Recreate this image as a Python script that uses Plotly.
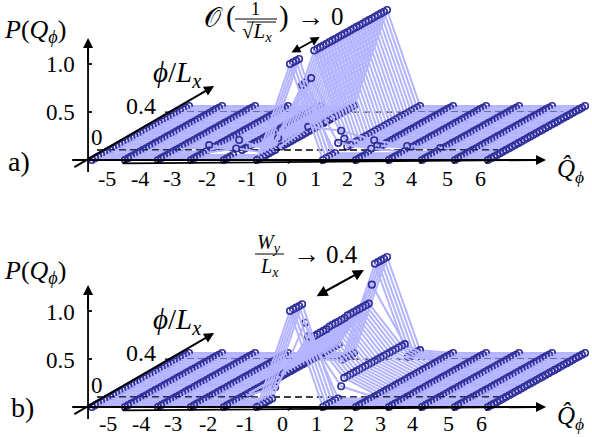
import plotly.graph_objects as go

W, H = 592, 437
SPLIT = 218
PX_Q = 33.0
PX_P = 96.0
Q_LEFT_PX = 92.0
BASE_A = 160.0
BASE_B = 407.0
SHEAR_X = 7.35
SHEAR_Y = 1.406

LIGHT = "#b4b4ff"
DARK = "#2f2f9a"
SERIF = "Liberation Serif"

Q = [-6, -5, -4, -3, -2, -1, 0, 1, 2, 3, 4, 5, 6]
PHI = [0.0, 0.0125, 0.025, 0.0375, 0.05, 0.0625, 0.075, 0.0875, 0.1, 0.1125, 0.125,
       0.1375, 0.15, 0.1625, 0.175, 0.1875, 0.2, 0.2125, 0.225, 0.2375, 0.25,
       0.2625, 0.275, 0.2875, 0.3, 0.3125, 0.325, 0.3375, 0.35, 0.3625, 0.375, 0.3875, 0.4]
FLAT = [0.0] * 33

# panel a, one list per charge sector, ordered along phi
A_M3 = [0, 0, 0, 0, 0, 0, .05, 0, 0, 0, 0, 0, 0, 0, 0, 0, 0, 0, 0, 0, 0, 0, 0, 0, 0, 0, 0, 0, 0, 0, 0, 0, 0]
A_M2 = [0, 0, 0, 0, .05, .12, 0, 0, 0, 0, 0, 0, 0, 0, 0, 0, 0, 0, 0, 0, 0, 0, 0, 0, 0, 0, 0, 0, 0, 0, 0, 0, 0]
A_M1 = [0, 0, 0, 0, 0, 0, 0, .105, 0, 0, 0, 0, 0, 0, 0, 0, 0, 0, 0, 0, 0, 0, 0, 0, 0, 0, 0, 0, 0, 0, 0, 0, 0]
A_0 = [1, 1, 1, 1, .71, .72, .24, .73, 1, 1, 1, 1, 1, 1, 1, 1, 1, 1, 1, 1, 1, 1, 1, 1, 1, 1, 1, 1, 1, 1, 1, 1, 1]
A_1 = [0, 0, 0, 0, 0, .09, .2, .1, 0, 0, 0, 0, 0, 0, 0, 0, 0, 0, 0, 0, 0, 0, 0, 0, 0, 0, 0, 0, 0, 0, 0, 0, 0]
A_2 = [0, 0, 0, 0, 0, .03, .1, .03, 0, 0, 0, 0, 0, 0, 0, 0, 0, 0, 0, 0, 0, 0, 0, 0, 0, 0, 0, 0, 0, 0, 0, 0, 0]
A_3 = [0, 0, 0, 0, 0, 0, .04, 0, 0, 0, 0, 0, 0, 0, 0, 0, 0, 0, 0, 0, 0, 0, 0, 0, 0, 0, 0, 0, 0, 0, 0, 0, 0]
A_4 = [0, 0, 0, 0, 0, 0, .02, 0, 0, 0, 0, 0, 0, 0, 0, 0, 0, 0, 0, 0, 0, 0, 0, 0, 0, 0, 0, 0, 0, 0, 0, 0, 0]
ROWS_A = [FLAT, FLAT, FLAT, A_M3, A_M2, A_M1, A_0, A_1, A_2, A_3, A_4, FLAT, FLAT]

# panel b
B_M1 = [0, 0, 0, 0, 0, 0, .1, .18, .18, .18, .18, .18, .18, .18, .18, .18, .18, .18, .18, .18, .18, .18, .18, .18, .18, .18, .18, .18, 0, 0, 0, 0, 0]
B_0 = [1, 1, 1, 1, 1, .79, .63, .61, .6, .6, .6, .6, .6, .61, .61, .61, .61, .61, .61, .62, .62, .62, .62, .62, .62, .62, .62, .8, 1, 1, 1, 1, 1]
B_1 = [0, 0, 0, 0, 0, 0, .11, .18, .18, .18, .18, .18, .18, .18, .18, .18, .18, .18, .18, .18, .18, .18, .18, .18, .18, .18, .18, .18, .03, .03, .03, .03, .03]
ROWS_B = [FLAT, FLAT, FLAT, FLAT, FLAT, B_M1, B_0, B_1, FLAT, FLAT, FLAT, FLAT, FLAT]

TICK_Q = [-5, -4, -3, -2, -1, 0, 1, 2, 3, 4, 5, 6]
TICK_TEXT = ["-5", "-4", "-3", "-2", "-1", "0", "1", "2", "3", "4", "5", "6"]
TICK_PX_A = [107, 140, 172, 207, 247, 281, 315, 347, 379, 411, 447, 480]
TICK_PX_B = [108, 141, 173, 208, 245, 282, 316, 348, 380, 412, 448, 481]
P_TICKS = [0.5, 1.0]
P_TICK_TEXT = ["0.5", "1.0"]


def draw_panel(fig, rows, xa, ya, refs):
    """Oblique projection: each phi is one polyline across Q, high phi drawn first."""
    for j in range(len(PHI) - 1, -1, -1):
        phi = PHI[j]
        for level, q_from, q_to in refs:
            if PHI[j] < level <= PHI[j] + 0.0125:
                fig.add_trace(go.Scatter(
                    x=[q_from, q_to], y=[level * SHEAR_Y] * 2, mode="lines",
                    line=dict(color="black", width=1.3, dash="7px,4px"),
                    xaxis=xa, yaxis=ya, hoverinfo="skip"))
        fig.add_trace(go.Scatter(
            x=[q + phi * SHEAR_X for q in Q],
            y=[row[j] + phi * SHEAR_Y for row in rows],
            mode="lines+markers",
            line=dict(color=LIGHT, width=2.0),
            marker=dict(symbol="circle-open", size=6.5, color=DARK, line=dict(width=1.6, color=DARK)),
            xaxis=xa, yaxis=ya, hoverinfo="skip"))
    # axes frame and ticks
    tx, ty = [-6.12, -6.12, None, -6.6, 7.5], [-0.125, 1.2, None, 0, 0]
    for q in TICK_Q:
        tx += [q - 0.07, q + 0.07, None]
        ty += [-0.035, 0.0, None]
    for p in P_TICKS:
        tx += [-6.12, -6.0, None]
        ty += [p, p, None]
    fig.add_trace(go.Scatter(x=tx, y=ty, mode="lines", line=dict(color="black", width=1.8),
                             xaxis=xa, yaxis=ya, hoverinfo="skip"))


def arrow(fig, xa, ya, tail, tip, both=False, width=2.0):
    fig.add_annotation(x=tip[0], y=tip[1], ax=tail[0], ay=tail[1], xref=xa, yref=ya, axref=xa, ayref=ya,
                       text="", showarrow=True, arrowhead=2, arrowsize=1.0, arrowwidth=width,
                       arrowside="end+start" if both else "end", arrowcolor="black",
                       startarrowhead=2, startarrowsize=1.0)


def label(fig, px, py, text, size=20):
    fig.add_annotation(x=px / W, y=1 - py / H, xref="paper", yref="paper", text=text, showarrow=False,
                       xanchor="center", yanchor="middle", font=dict(family=SERIF, size=size, color="black"))


def bar(fig, x0, x1, py):
    fig.add_shape(type="line", xref="paper", yref="paper", x0=x0 / W, x1=x1 / W, y0=1 - py / H, y1=1 - py / H,
                  line=dict(color="black", width=1))


fig = go.Figure()
draw_panel(fig, ROWS_A, "x", "y", [(0.074, -5.85, 6.30), (0.355, -3.79, 8.27)])
draw_panel(fig, ROWS_B, "x2", "y2", [(0.074, -5.85, 6.36), (0.355, -3.79, 8.39)])

for xa, ya in [("x", "y"), ("x2", "y2")]:
    arrow(fig, xa, ya, (7.0, 0), (7.76, 0))
    arrow(fig, xa, ya, (-6.12, 1.0), (-6.12, 1.27))
    arrow(fig, xa, ya, (-6.58, -0.083), (-2.3, 0.77))
arrow(fig, "x", "y", (0.0, 1.11), (0.9, 1.28), both=True, width=1.8)
arrow(fig, "x2", "y2", (0.76, 1.146), (2.24, 1.427), both=True, width=2.2)

P_LABEL = "<i>P</i>(<i>Q</i><sub><i>ϕ</i></sub>)"
PHI_LABEL = "<i>ϕ</i>/<i>L</i><sub><i>x</i></sub>"
QHAT_LABEL = "<i>Q̂</i><sub><i>ϕ</i></sub>"

for off, ticks, tag, tag_xy, ytick in [(0, TICK_PX_A, "a)", (19, 161), 178), (247, TICK_PX_B, "b)", (22, 407), 423)]:
    label(fig, 35, 31 + (241 if off else 0), P_LABEL, 26)
    for p, text in zip(P_TICKS, P_TICK_TEXT):
        label(fig, 60, (BASE_A + off) - p * PX_P + 1, text, 23)
    label(fig, 141, 106 + off, "0.4", 24)
    label(fig, 97, 137 + (248 if off else 0), "0", 23)
    label(fig, 177, 74 + off, PHI_LABEL, 29)
    label(fig, 570, 171 + (247 if off else 0), QHAT_LABEL, 25)
    label(fig, tag_xy[0], tag_xy[1], tag, 28)
    for px, text in zip(ticks, TICK_TEXT):
        label(fig, px, ytick, text, 22)

# panel a formula
label(fig, 213, 18, "𝒪", 27)
label(fig, 231, 17, "(", 29)
label(fig, 255, 9, "1", 18)
bar(fig, 235, 277, 19)
bar(fig, 247, 276, 22)
label(fig, 257, 32, "√<i>L</i><sub><i>x</i></sub>", 21)
label(fig, 284, 17, ")", 29)
label(fig, 310, 17, "→", 27)
label(fig, 337, 17, "0", 25)

# panel b formula
label(fig, 269, 243, "<i>W</i><sub><i>y</i></sub>", 20)
bar(fig, 255, 284, 254)
label(fig, 269, 267, "<i>L</i><sub><i>x</i></sub>", 20)
label(fig, 306, 254, "→", 27)
label(fig, 342, 254, "0.4", 25)

x_range = [-6 - Q_LEFT_PX / PX_Q, -6 + (W - Q_LEFT_PX) / PX_Q]
split = 1 - SPLIT / H
hidden = dict(visible=False, fixedrange=True)
fig.update_layout(
    width=W, height=H, showlegend=False,
    paper_bgcolor="white", plot_bgcolor="rgba(0,0,0,0)",
    margin=dict(l=0, r=0, t=0, b=0),
    xaxis=dict(domain=[0, 1], range=x_range, anchor="y", **hidden),
    yaxis=dict(domain=[split, 1], range=[(BASE_A - SPLIT) / PX_P, BASE_A / PX_P], anchor="x", **hidden),
    xaxis2=dict(domain=[0, 1], range=x_range, anchor="y2", **hidden),
    yaxis2=dict(domain=[0, split], range=[(BASE_B - H) / PX_P, (BASE_B - SPLIT) / PX_P], anchor="x2", **hidden),
)

# page body has a default margin that would push the figure off the window
fig.write_html("out.html", post_script="document.body.style.margin='0';", config=dict(displayModeBar=False))
